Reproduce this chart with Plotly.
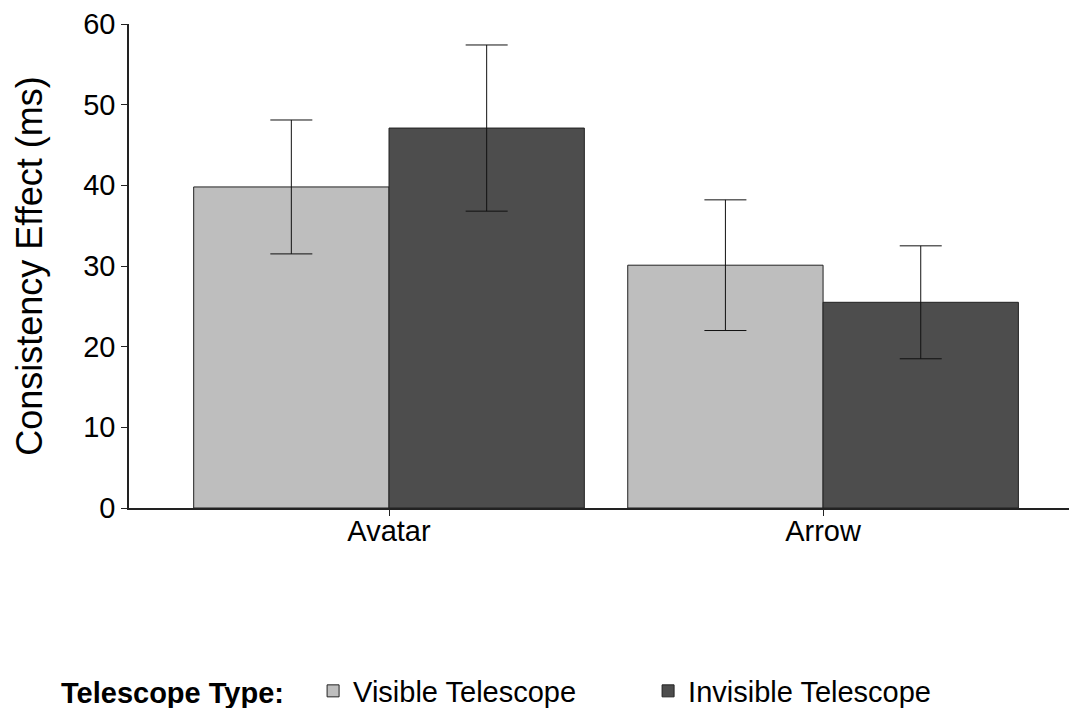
import plotly.graph_objects as go

categories = ["Avatar", "Arrow"]
series_names = ["Visible Telescope", "Invisible Telescope"]
visible_means = [39.8, 30.1]
visible_err = [8.3, 8.1]
invisible_means = [47.1, 25.5]
invisible_err = [10.3, 7.0]
y_ticks = [0, 10, 20, 30, 40, 50, 60]

colors = ["#bebebe", "#4d4d4d"]
FONT = "Liberation Sans, Arial, Helvetica, sans-serif"

fig = go.Figure()
for name, vals, errs, col in zip(series_names,
                                 [visible_means, invisible_means],
                                 [visible_err, invisible_err], colors):
    fig.add_trace(go.Bar(
        x=categories, y=vals, name=name,
        marker=dict(color=col, line=dict(color="#222222", width=1)),
        error_y=dict(type="data", array=errs, visible=True,
                     color="#111111", thickness=1, width=21),
    ))

W, H = 1069, 700
L, T, B = 121, 16, 200
plot_h = H - T - B

fig.update_layout(
    width=W, height=H,
    paper_bgcolor="white", plot_bgcolor="white",
    margin=dict(l=L, r=0, t=T, b=B, autoexpand=False),
    barmode="group", bargap=0.1, bargroupgap=0,
    font=dict(family=FONT, size=29, color="black"),
    xaxis=dict(
        range=[-0.599, 1.585], showline=True, linecolor="#222222", linewidth=1.5,
        ticks="outside", ticklen=6, tickcolor="#222222", tickwidth=1,
        showgrid=False, zeroline=False, tickfont=dict(size=29),
        ticklabelstandoff=-10,
    ),
    yaxis=dict(
        range=[0, 60], tickvals=y_ticks, showline=True, linecolor="#222222",
        linewidth=1.5, ticks="outside", ticklen=6, tickcolor="#222222",
        showgrid=False, zeroline=False, tickfont=dict(size=29),
        title=dict(text="Consistency Effect (ms)", font=dict(size=36), standoff=30),
    ),
    legend=dict(
        orientation="h", x=(51 - L) / (W - L), xanchor="left",
        y=(H - B - 683) / plot_h, yanchor="middle",
        title=dict(text="<b>Telescope Type:</b>&nbsp;&nbsp;<span style=\"font-size:18px\">&nbsp;</span>",
                   font=dict(size=29)),
        font=dict(size=29), entrywidth=290, entrywidthmode="pixels",
        traceorder="normal",
    ),
)

fig.write_html("out.html")
